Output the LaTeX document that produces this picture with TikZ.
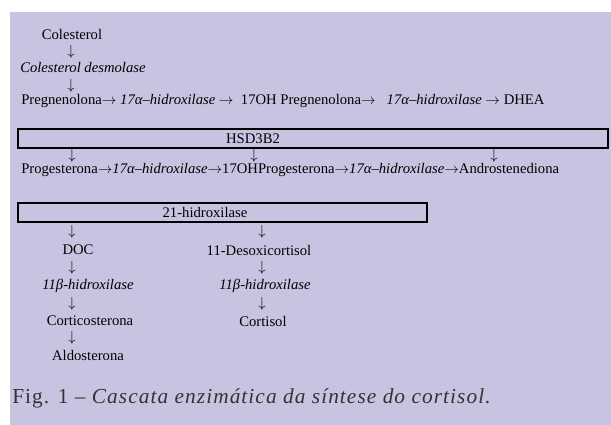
\documentclass[tikz,border=0pt]{standalone}
\usepackage{fontspec}
\setmainfont{Liberation Serif}
\newfontfamily\capfont[LetterSpace=5]{Liberation Serif}
\usepackage{tikz}
\definecolor{panel}{RGB}{199,196,225}
\definecolor{capgray}{RGB}{51,51,51}
\newcommand{\ra}{$\rightarrow$}
\newcommand{\da}{{\fontsize{10.5}{10}\selectfont$\downarrow$}}
\tikzstyle{txt}=[inner sep=0pt, font=\fontsize{11}{12}\selectfont]
\tikzstyle{enz}=[txt, font=\fontsize{11}{12}\selectfont\itshape]
\tikzstyle{bar}=[draw=black, line width=1.3pt]

\begin{document}
\begin{tikzpicture}[x=0.75pt, y=-0.75pt]
	\useasboundingbox (0, 0) rectangle (611, 425);
	\fill[panel] (10, 12) rectangle (611, 425);
	\begin{scope}
		% coluna inicial
		\node (col) at (72, 34)[txt] {Colesterol};
		\node (a1) at (71, 52)[txt] {\da};
		\node (des) at (20, 67)[enz, anchor=west] {Colesterol desmolase};
		\node (a2) at (71, 86)[txt] {\da};
		\node (preg) at (21, 101)[txt, anchor=west] {Pregnenolona\ra\ \textit{17α–hidroxilase} \ra\ \ 17OH Pregnenolona\ra\ \ \ \textit{17α–hidroxilase} \ra\ DHEA};
		% HSD3B2
		\draw[bar] (18, 129) rectangle (608, 148);
		\node (hsd) at (253, 138.5)[txt] {HSD3B2};
		\node (a3) at (72, 156)[txt] {\da};
		\node (a4) at (254, 156)[txt] {\da};
		\node (a5) at (494, 156)[txt] {\da};
		\node (prog) at (21, 170)[txt, anchor=west] {Progesterona\ra\textit{17α–hidroxilase}\ra17OHProgesterona\ra\textit{17α–hidroxilase}\ra Androstenediona};
		% 21-hidroxilase
		\draw[bar] (18, 203) rectangle (427, 222);
		\node (h21) at (205, 212.5)[txt] {21-hidroxilase};
	\end{scope}
	\begin{scope}
		% ramo esquerdo
		\node (a6) at (72, 232)[txt] {\da};
		\node (doc) at (78, 250)[txt] {DOC};
		\node (a7) at (72, 268)[txt] {\da};
		\node (b1) at (88, 286)[enz] {11β-hidroxilase};
		\node (a8) at (72, 304)[txt] {\da};
		\node (cort) at (90, 321)[txt] {Corticosterona};
		\node (a9) at (72, 338)[txt] {\da};
		\node (aldo) at (88, 355)[txt] {Aldosterona};
		% ramo direito
		\node (a10) at (262, 232)[txt] {\da};
		\node (deso) at (259, 250)[txt] {11-Desoxicortisol};
		\node (a11) at (262, 268)[txt] {\da};
		\node (b2) at (265, 286)[enz] {11β-hidroxilase};
		\node (a12) at (262, 304)[txt] {\da};
		\node (cor) at (263, 321)[txt] {Cortisol};
	\end{scope}
	\node (fig) at (12, 398)[anchor=west, inner sep=0pt, text=capgray, font=\fontsize{16}{18}\capfont] {Fig. 1 – \textit{Cascata enzimática da síntese do cortisol.}};
\end{tikzpicture}
\end{document}
